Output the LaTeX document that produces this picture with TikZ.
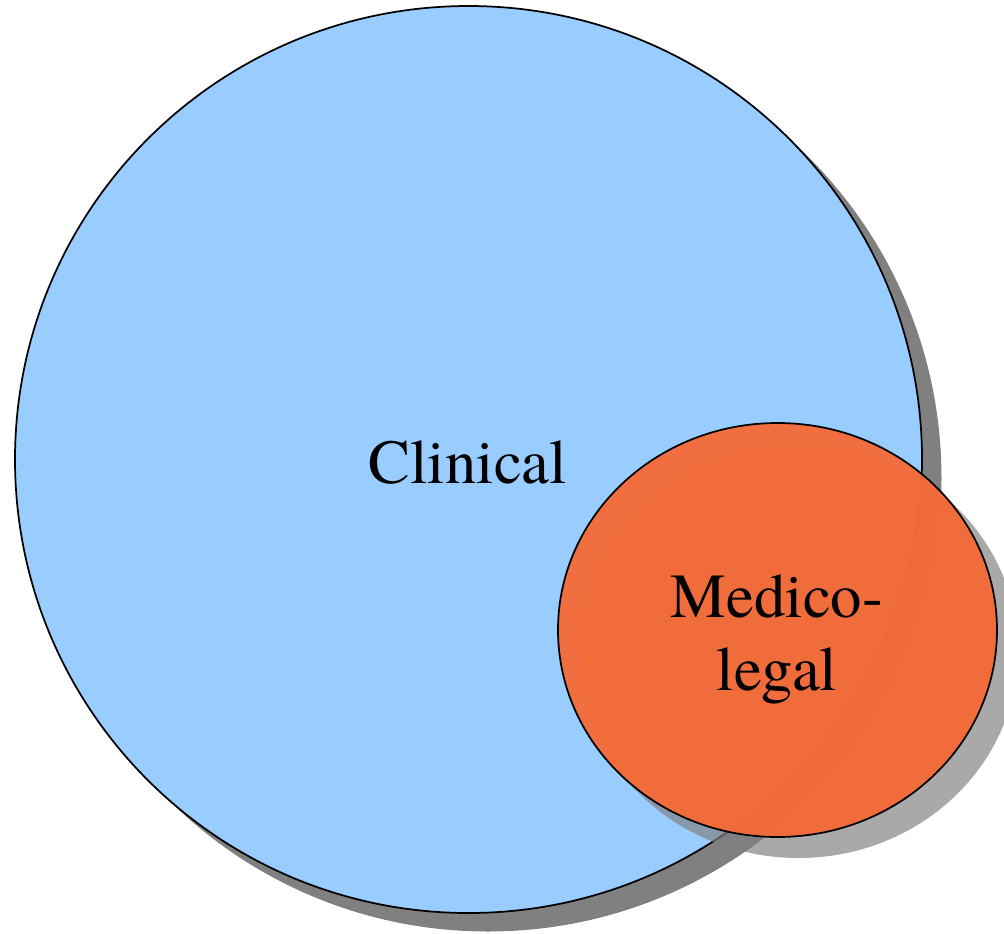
\documentclass[tikz,border=0pt]{standalone}
\usepackage{fontspec}
\setmainfont{Liberation Serif}
\newfontfamily\timesfont{texgyretermes-regular.otf}
\definecolor{clinblue}{RGB}{153,204,255}
\definecolor{medorange}{RGB}{246,106,54}
\definecolor{shadowgray}{RGB}{128,128,128}
\tikzset{
  outline/.style={draw=black, line width=1.3pt},
  txtlabel/.style={font=\timesfont\fontsize{47}{55}\selectfont, text=black, inner sep=0pt, align=center},
}
\begin{document}
\begin{tikzpicture}[x=0.75pt,y=-0.75pt]
\useasboundingbox (0,0) rectangle (1004,933);
% big circle shadow and fill
\fill[shadowgray] (488,478) circle [radius=453.5];
\fill[clinblue] (468.5,459.5) circle [radius=453.5];
\draw[outline] (468.5,459.5) circle [radius=453.5];
% small ellipse shadow (semi-transparent)
\fill[shadowgray, fill opacity=0.68] (798.5,651) ellipse [x radius=219.5, y radius=207];
\fill[medorange, fill opacity=0.95] (777.5,630) ellipse [x radius=219.5, y radius=207];
\draw[outline] (777.5,630) ellipse [x radius=219.5, y radius=207];
% labels
\node[txtlabel, anchor=base] (clinical) at (468,483) {Clinical};
\node[txtlabel, anchor=base] (medico) at (777,617) {Medico-};
\node[txtlabel, anchor=base] (legal) at (777,690) {legal};
\end{tikzpicture}
\end{document}
